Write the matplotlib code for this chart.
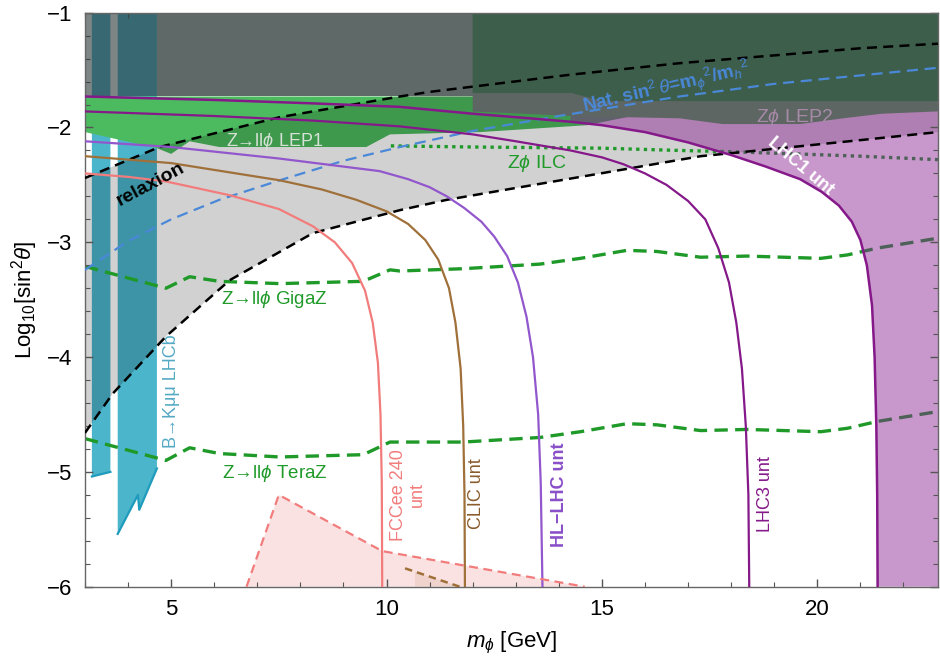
import matplotlib
matplotlib.use("Agg")
import matplotlib.pyplot as plt
import numpy as np
from matplotlib.ticker import MultipleLocator

plt.rcParams['font.family'] = ['Liberation Sans', 'DejaVu Sans']
plt.rcParams['mathtext.fontset'] = 'custom'
plt.rcParams['mathtext.rm'] = 'Liberation Sans'
plt.rcParams['mathtext.it'] = 'Liberation Sans:italic'
plt.rcParams['mathtext.bf'] = 'Liberation Sans:bold'

# relaxion band (log10 sin^2 theta vs m_phi in GeV)
relax_up_m = [3, 4.73, 7.52, 10.31, 11, 14.27, 16.8, 21, 22.8]
relax_up = [-2.44, -2.17, -1.91, -1.73, -1.69, -1.54, -1.44, -1.31, -1.27]
relax_lo_m = [3, 3.64, 4.88, 6.36, 8.29, 10.31, 11.4, 14.97, 17.29, 18.1, 21, 22.8]
relax_lo = [-4.66, -4.32, -3.82, -3.33, -2.92, -2.72, -2.63, -2.40, -2.25, -2.22, -2.11, -2.04]

# naturalness line
nat_m = [3, 4, 5, 6.12, 7.52, 9, 10.31, 12, 14, 16.8, 19, 22.8]
nat = [-3.24, -2.99, -2.80, -2.63, -2.46, -2.29, -2.17, -2.03, -1.90, -1.73, -1.62, -1.48]

# LHCb B -> K mu mu bars
lhcb1_m = [3.16, 3.59]
lhcb1_lo = [-5.04, -5.00]
lhcb2_m = [3.76, 4.23, 4.26, 4.67]
lhcb2_lo = [-5.54, -5.20, -5.33, -4.97]

# LEP1 Z -> ll phi lower edge
lep1_m = [3.0, 4.67, 5.0, 5.43, 6.12, 9.53, 10.08, 12.17, 14.65, 15.58]
lep1_lo = [-2.04, -2.18, -2.23, -2.12, -2.17, -2.17, -2.06, -2.04, -1.98, -1.91]

# LEP2 Z phi lower edge and the box above it
lep2_m = [12, 14.3, 15.5, 16.8, 17.8, 19.6, 20.6, 21.5, 22.8]
lep2_lo = [-1.86, -1.90, -1.91, -1.92, -1.97, -1.97, -1.92, -1.88, -1.86]
box_m = [12, 14.3, 15.0, 22.8]
box_lo = [-1.70, -1.70, -1.77, -1.77]
band_lo = -1.73

# future Z-pole and ILC reach
gigaz_m = [3, 4.88, 5.43, 6.12, 7.52, 9.46, 10.08, 10.31, 11.78, 13.56, 14.5, 15.58,
           16.28, 17.29, 18.37, 20.08, 20.7, 21.4, 22.87]
gigaz = [-3.21, -3.40, -3.30, -3.34, -3.36, -3.34, -3.24, -3.25, -3.23, -3.19, -3.14, -3.07,
         -3.08, -3.13, -3.12, -3.14, -3.11, -3.05, -2.96]
teraz_m = [3, 4.88, 5.43, 6.12, 7.52, 9.46, 10.08, 11.78, 13.56, 14.5, 15.58, 16.28,
           17.29, 18.37, 20.08, 20.7, 21.4, 22.87]
teraz = [-4.71, -4.90, -4.79, -4.84, -4.87, -4.85, -4.74, -4.74, -4.70, -4.65, -4.58, -4.59,
         -4.64, -4.63, -4.65, -4.62, -4.56, -4.47]
ilc_m = [10.1, 12, 14.97, 16.8, 17.9, 19.5, 21, 22.8]
ilc = [-2.16, -2.17, -2.18, -2.20, -2.21, -2.23, -2.25, -2.28]

# untagged searches
lhc1_m = [3, 6, 8.3, 10.3, 12, 13, 14.27, 15, 16, 17, 18, 18.8, 19.6, 20.1, 20.5, 20.8,
          21.0, 21.15, 21.27, 21.33, 21.37, 21.39, 21.4]
lhc1 = [-1.73, -1.76, -1.79, -1.82, -1.88, -1.91, -1.95, -1.98, -2.04, -2.13, -2.24, -2.34,
        -2.45, -2.56, -2.68, -2.82, -2.98, -3.2, -3.55, -4.0, -4.6, -5.2, -6.0]
lhc3_m = [3, 6, 8.3, 10.3, 12, 13, 14.27, 15, 15.5, 16, 16.5, 17, 17.4, 17.7, 17.95, 18.12,
          18.25, 18.34, 18.4, 18.42]
lhc3 = [-1.86, -1.90, -1.94, -1.99, -2.06, -2.12, -2.20, -2.26, -2.32, -2.40, -2.50, -2.64,
        -2.80, -3.05, -3.35, -3.7, -4.1, -4.6, -5.2, -6.0]
hllhc_m = [3, 5, 7.5, 9.84, 10.5, 11, 11.4, 11.8, 12.2, 12.5, 12.8, 13.05, 13.25, 13.4,
           13.52, 13.58, 13.62]
hllhc = [-2.12, -2.17, -2.27, -2.38, -2.45, -2.52, -2.60, -2.70, -2.82, -2.95, -3.12, -3.35,
         -3.65, -4.0, -4.5, -5.1, -6.0]
clic_m = [3, 5, 7.52, 8.5, 9.3, 10, 10.5, 10.9, 11.2, 11.45, 11.6, 11.72, 11.78, 11.81, 11.82]
clic = [-2.25, -2.31, -2.46, -2.54, -2.63, -2.73, -2.84, -2.98, -3.15, -3.4, -3.7, -4.1,
        -4.6, -5.2, -6.0]
fcc_m = [3, 4, 4.88, 6.36, 7.5, 8.29, 8.8, 9.2, 9.5, 9.68, 9.8, 9.86, 9.89, 9.9]
fcc = [-2.40, -2.43, -2.47, -2.59, -2.71, -2.86, -3.0, -3.18, -3.42, -3.7, -4.05, -4.5,
       -5.1, -6.0]

# tagged FCC-ee / CLIC regions at the bottom
fcc_tag_m = [6.75, 7.5, 9.9, 14.6]
fcc_tag = [-6.0, -5.2, -5.69, -6.0]
clic_tag_m = [10.43, 11.7]
clic_tag = [-5.84, -6.0]

YTOP, YBOT = -1.0, -6.0


def band(xs, lo, top):
    """Polygon between a lower edge and a flat top."""
    return list(xs) + [xs[-1], xs[0]], list(lo) + [top, top]


fig = plt.figure(figsize=(9.4, 6.61), dpi=100)
ax = fig.add_axes([0.0904, 0.1124, 0.9074, 0.8684])

# LHCb bars
for xs, lo in [(lhcb1_m, lhcb1_lo), (lhcb2_m, lhcb2_lo)]:
    px, py = band(xs, lo, YTOP)
    ax.fill(px, py, color='#4bb5cc', lw=0, zorder=0.5)
    ax.plot(xs, lo, color='#1f9bbb', lw=1.6, zorder=0.6)

# LEP1 region
px, py = band(lep1_m, lep1_lo, band_lo)
ax.fill(px, py, color='#4cbb5f', lw=0, zorder=0.7)

# tagged regions at the bottom
ax.fill(fcc_tag_m, fcc_tag, color='#f4a0a0', alpha=0.3, lw=0, zorder=0.8)
cx = np.linspace(10.66, clic_tag_m[-1], 20)
cy = np.interp(cx, clic_tag_m, clic_tag)
ax.fill(list(cx) + [cx[-1], cx[0]], list(cy) + [YBOT, YBOT], color='#b08050', alpha=0.15,
        lw=0, zorder=0.85)

# relaxion band
ax.fill(list(relax_up_m) + relax_lo_m[::-1], list(relax_up) + relax_lo[::-1],
        color='black', alpha=0.18, lw=0, zorder=1.0)

# Z-pole / ILC projections
ax.plot(gigaz_m, gigaz, color='#1f9a29', lw=2.4, dashes=(4, 2.2), zorder=1.2)
ax.plot(teraz_m, teraz, color='#1f9a29', lw=2.4, dashes=(4, 2.2), zorder=1.2)
ax.plot(ilc_m, ilc, color='#1f9a29', lw=2.4, dashes=(1, 1.3), zorder=1.2)

# LHC1 excluded region
sel = [i for i, m in enumerate(lhc1_m) if m >= 14]
pm = [lhc1_m[i] for i in sel]
pl = [lhc1[i] for i in sel]
ax.fill(pm + [23, 23, pm[0]], pl + [YBOT, -1.8, -1.8], color='#871f90', alpha=0.46, lw=0,
        zorder=1.5)

# top exclusions
ax.fill([3, 4.68, 4.68, 3], [band_lo, band_lo, YTOP, YTOP], color='#2d3a3a', alpha=0.62,
        lw=0, zorder=2)
ax.fill([4.68, 12, 12, 4.68], [band_lo, band_lo, YTOP, YTOP], color='#5f6a68', lw=0, zorder=2)
px, py = band(lep2_m, lep2_lo, YTOP)
ax.fill(px, py, color='#5e6663', lw=0, zorder=2.1)
px, py = band(box_m, box_lo, YTOP)
ax.fill(px, py, color='#3e5e4c', lw=0, zorder=2.2)

# boundary lines
ax.plot(relax_up_m, relax_up, color='black', lw=1.8, dashes=(4, 2.5), zorder=3)
ax.plot(relax_lo_m, relax_lo, color='black', lw=1.8, dashes=(4, 2.5), zorder=3)
ax.plot(nat_m, nat, color='#4a88d8', lw=1.6, dashes=(5, 3), zorder=3)
ax.plot(lhc1_m, lhc1, color='#85198a', lw=1.8, zorder=3)
ax.plot(lhc3_m, lhc3, color='#85198a', lw=1.6, zorder=3)
ax.plot(hllhc_m, hllhc, color='#9257cc', lw=1.6, zorder=3)
ax.plot(clic_m, clic, color='#a0703a', lw=1.6, zorder=3)
ax.plot(fcc_m, fcc, color='#f27c7c', lw=1.6, zorder=3)
ax.plot(fcc_tag_m, fcc_tag, color='#f27c7c', lw=1.6, dashes=(4, 2.5), zorder=3)
ax.plot(clic_tag_m, clic_tag, color='#a0703a', lw=1.8, dashes=(3, 2), zorder=3)

# labels
tk = dict(ha='center', va='center', rotation_mode='anchor', zorder=5)
ax.text(16.5, -1.66, r'Nat. sin$^2\,\theta$=m$_\phi$$^2$/m$_h$$^2$', color='#4a88d8',
        fontsize=13.5, fontweight='bold', rotation=13, **tk)
ax.text(19.48, -1.91, r'Z$\phi$ LEP2', color='#a78aa8', fontsize=14, **tk)
ax.text(7.4, -2.12, r'Z→ll$\phi$ LEP1', color='#d5e2d5', fontsize=13, **tk)
ax.text(13.5, -2.31, r'Z$\phi$ ILC', color='#1f9a29', fontsize=14, **tk)
ax.text(4.52, -2.5, 'relaxion', color='black', fontsize=14, fontweight='bold', rotation=28, **tk)
ax.text(7.4, -3.5, r'Z→ll$\phi$ GigaZ', color='#1f9a29', fontsize=13.5, **tk)
ax.text(7.4, -5.01, r'Z→ll$\phi$ TeraZ', color='#1f9a29', fontsize=13.5, **tk)
ax.text(5.0, -4.30, 'B→Kμμ LHCb', color='#55aac4', fontsize=13, rotation=90, **tk)
ax.text(10.5, -5.2, 'FCCee 240\nunt', color='#f27c7c', fontsize=13, rotation=90,
        multialignment='center', **tk)
ax.text(12.1, -5.19, 'CLIC unt', color='#8a5c2c', fontsize=13, rotation=90, **tk)
ax.text(14.01, -5.2, 'HL−LHC unt', color='#8a4fc8', fontsize=13, fontweight='bold',
        rotation=90, **tk)
ax.text(18.8, -5.19, 'LHC3 unt', color='#85198a', fontsize=13, rotation=90, **tk)
ax.text(19.6, -2.34, 'LHC1 unt', color='white', fontsize=13, fontweight='bold',
        rotation=-40, **tk)

ax.set_xlim(3, 22.8)
ax.set_ylim(YBOT, YTOP)
ax.xaxis.set_major_locator(MultipleLocator(5))
ax.xaxis.set_minor_locator(MultipleLocator(1))
ax.yaxis.set_major_locator(MultipleLocator(1))
ax.yaxis.set_minor_locator(MultipleLocator(0.2))
ax.tick_params(which='both', direction='in', top=True, right=True, colors='#555555',
               labelcolor='black', labelsize=16)
ax.tick_params(which='major', length=6, width=1, pad=9)
ax.tick_params(which='minor', length=3.5, width=0.8)
for s in ax.spines.values():
    s.set_color('#666666')
    s.set_linewidth(1)

ax.set_xlabel(r'$m_\phi$ [GeV]', fontsize=16, labelpad=7)
ax.set_ylabel(r'Log$_{10}$[sin$^2$$\theta$]', fontsize=16, labelpad=5)

fig.savefig('out.png', dpi=100)
